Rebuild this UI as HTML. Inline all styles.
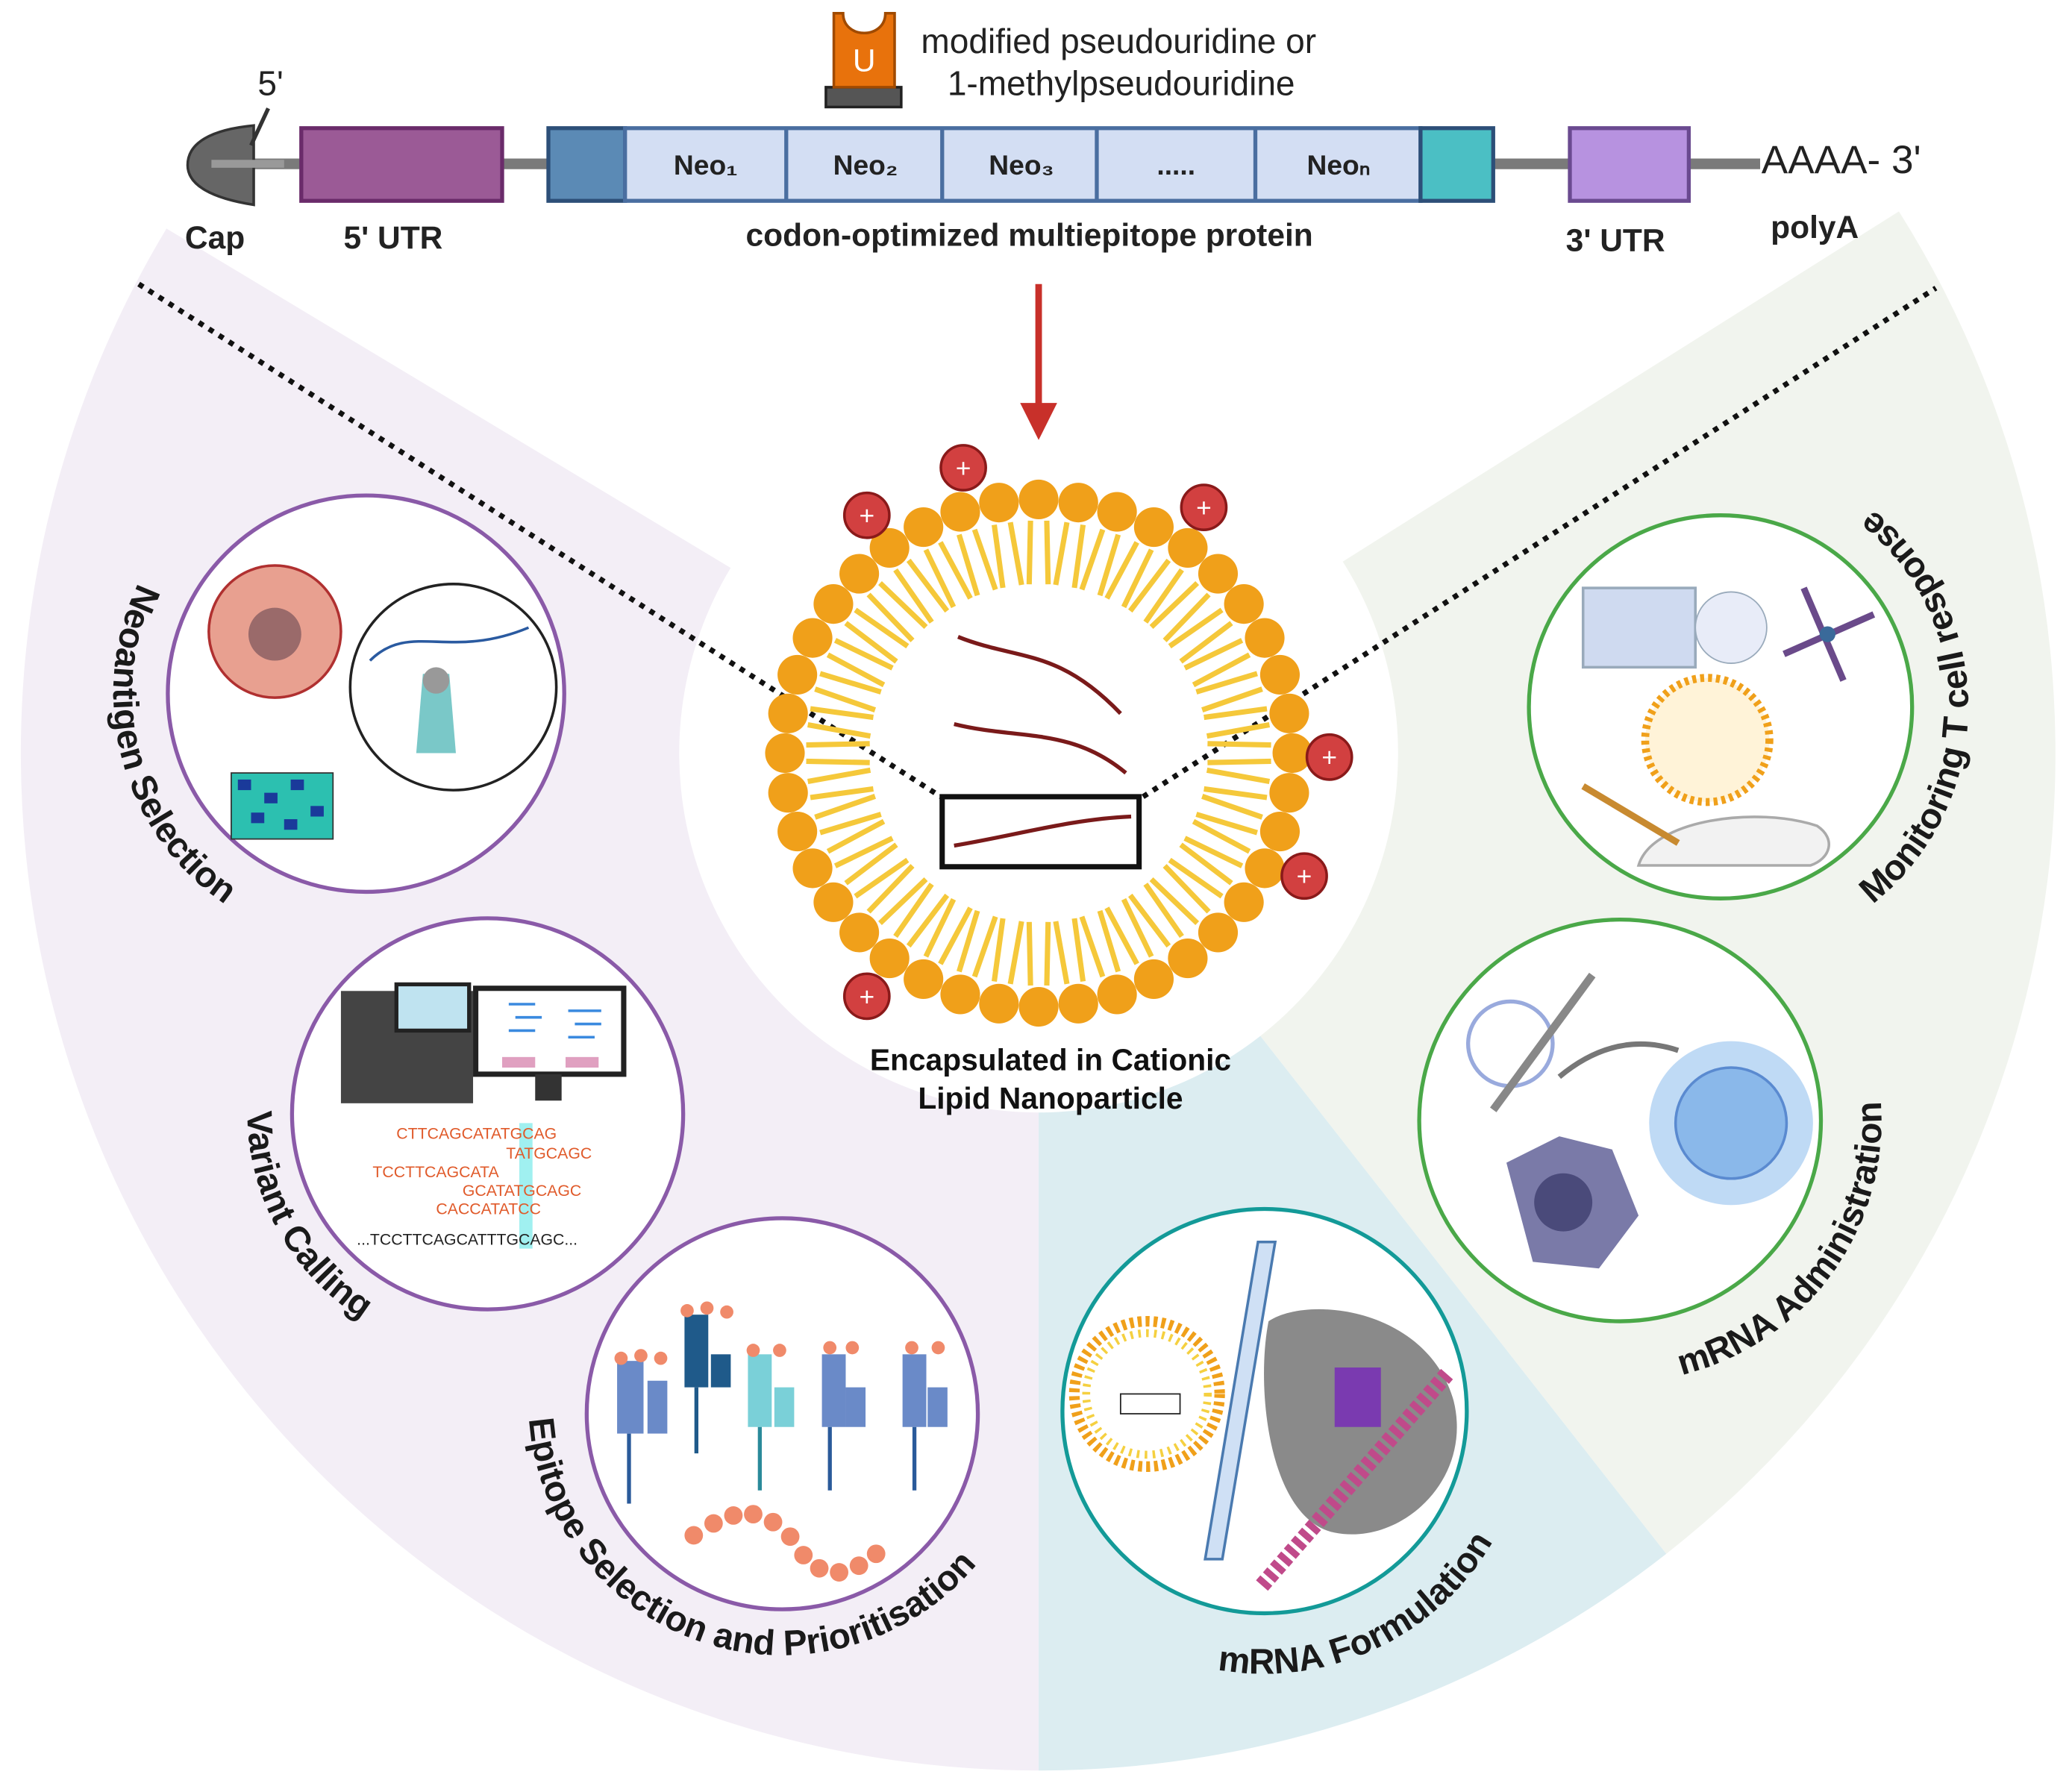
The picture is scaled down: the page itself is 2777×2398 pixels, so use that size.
<!DOCTYPE html>
<html><head><meta charset="utf-8"><style>
html,body{margin:0;padding:0;background:#fff;}
svg{display:block;}
text{font-family:"Liberation Sans",sans-serif;}
</style></head><body>
<svg id="s" width="2777" height="2398" viewBox="0 0 1568 1354" xmlns="http://www.w3.org/2000/svg">
<!-- background sectors -->
<path d="M786,570 L126,173 A770,770 0 0 0 786,1340 Z" fill="#f3eef6"/>
<path d="M786,570 L786,1340 A770,770 0 0 0 1261,1176 Z" fill="#dcedf1"/>
<path d="M786,570 L1261,1176 A770,770 0 0 0 1437,160 Z" fill="#f1f4ee"/>
<circle cx="786" cy="570" r="272" fill="#fff"/>

<!-- dotted lines -->
<line x1="105" y1="215" x2="712" y2="603" stroke="#111" stroke-width="4" stroke-dasharray="4,5"/>
<line x1="865" y1="603" x2="1465" y2="218" stroke="#111" stroke-width="4" stroke-dasharray="4,5"/>

<!-- mRNA construct -->
<line x1="160" y1="124" x2="1332" y2="124" stroke="#7a7a7a" stroke-width="8"/>
<path d="M192,95 L192,155 C160,150 142,140 142,125 C142,108 160,98 192,95 Z" fill="#666" stroke="#333" stroke-width="2"/>
<line x1="160" y1="124" x2="215" y2="124" stroke="#999" stroke-width="6"/>
<line x1="190" y1="110" x2="203" y2="82" stroke="#333" stroke-width="3"/>
<text x="195" y="72" font-size="26" fill="#222">5'</text>
<rect x="228" y="97" width="152" height="55" fill="#9b5a96" stroke="#6a2b6a" stroke-width="3"/>
<rect x="415" y="97" width="58" height="55" fill="#5b8ab5" stroke="#2d4f78" stroke-width="3"/>
<rect x="473" y="97" width="602" height="55" fill="#d3def3" stroke="#4a6ea0" stroke-width="3"/>
<line x1="595" y1="97" x2="595" y2="152" stroke="#4a6ea0" stroke-width="3"/>
<line x1="713" y1="97" x2="713" y2="152" stroke="#4a6ea0" stroke-width="3"/>
<line x1="830" y1="97" x2="830" y2="152" stroke="#4a6ea0" stroke-width="3"/>
<line x1="950" y1="97" x2="950" y2="152" stroke="#4a6ea0" stroke-width="3"/>
<rect x="1075" y="97" width="55" height="55" fill="#4bbfc4" stroke="#2d4f78" stroke-width="3"/>
<rect x="1188" y="97" width="90" height="55" fill="#b792e0" stroke="#6a4a90" stroke-width="3"/>
<g font-size="21" font-weight="bold" fill="#222" text-anchor="middle">
<text x="534" y="132">Neo₁</text><text x="655" y="132">Neo₂</text><text x="773" y="132">Neo₃</text><text x="890" y="132">.....</text><text x="1013" y="132">Neoₙ</text>
</g>
<text x="1333" y="131" font-size="30" fill="#222">AAAA- 3'</text>
<g font-size="24" font-weight="bold" fill="#222">
<text x="140" y="188">Cap</text><text x="260" y="188">5' UTR</text>
<text x="779" y="186" text-anchor="middle">codon-optimized  multiepitope protein</text>
<text x="1185" y="190">3' UTR</text><text x="1340" y="180">polyA</text>
</g>
<!-- U icon -->
<rect x="625" y="66" width="57" height="15" fill="#555" stroke="#222" stroke-width="2"/>
<path d="M631,10 L631,66 L677,66 L677,10 L670,10 C670,30 638,30 638,10 Z" fill="#e8720c" stroke="#a04a00" stroke-width="2"/>
<text x="654" y="54" font-size="24" fill="#fff" text-anchor="middle">U</text>
<text x="697" y="40" font-size="26" fill="#222">modified pseudouridine or</text>
<text x="717" y="72" font-size="26" fill="#222">1-methylpseudouridine</text>

<!-- arrow -->
<line x1="786" y1="215" x2="786" y2="310" stroke="#c8302a" stroke-width="5"/>
<polygon points="772,305 800,305 786,333" fill="#c8302a"/>

<!-- nanoparticle -->
<g id="lnp"></g>
<g fill="none" stroke="#7a1a1a" stroke-width="3">
<path d="M725,482 C770,500 800,490 848,540"/>
<path d="M722,548 C770,560 810,550 852,585"/>
<path d="M722,640 C770,632 810,620 856,618"/>
</g>
<rect x="713" y="603" width="149" height="53" fill="none" stroke="#111" stroke-width="4"/>
<text x="795" y="810" font-size="23" font-weight="bold" fill="#111" text-anchor="middle">Encapsulated in Cationic</text>
<text x="795" y="839" font-size="23" font-weight="bold" fill="#111" text-anchor="middle">Lipid Nanoparticle</text>

<!-- small circles -->
<g fill="#fff" stroke-width="3">
<circle cx="277" cy="525" r="150" stroke="#8a5aa8"/>
<circle cx="369" cy="843" r="148" stroke="#8a5aa8"/>
<circle cx="592" cy="1070" r="148" stroke="#8a5aa8"/>
<circle cx="957" cy="1068" r="153" stroke="#139a98"/>
<circle cx="1226" cy="848" r="152" stroke="#4aa848"/>
<circle cx="1302" cy="535" r="145" stroke="#4aa848"/>
</g>

<!-- neoantigen circle content -->
<circle cx="208" cy="478" r="50" fill="#e8a090" stroke="#b03030" stroke-width="2"/>
<circle cx="208" cy="480" r="20" fill="#9a6a6a"/>
<circle cx="343" cy="520" r="78" fill="#fff" stroke="#222" stroke-width="2"/>
<path d="M280,500 C310,470 340,500 400,475" fill="none" stroke="#2a5aa0" stroke-width="2"/>
<path d="M320,510 L340,510 L345,570 L315,570 Z" fill="#7ac8c8"/>
<circle cx="330" cy="515" r="10" fill="#999"/>
<rect x="175" y="585" width="77" height="50" fill="#2cc0b0" stroke="#333"/>
<g fill="#1a3a9a"><rect x="180" y="590" width="10" height="8"/><rect x="200" y="600" width="10" height="8"/><rect x="220" y="590" width="10" height="8"/><rect x="235" y="610" width="10" height="8"/><rect x="190" y="615" width="10" height="8"/><rect x="215" y="620" width="10" height="8"/></g>

<!-- variant calling content -->
<rect x="258" y="750" width="100" height="85" fill="#444"/>
<rect x="300" y="745" width="55" height="35" fill="#bfe3f0" stroke="#222" stroke-width="3"/>
<rect x="360" y="748" width="112" height="65" fill="#fff" stroke="#222" stroke-width="4"/>
<rect x="380" y="800" width="25" height="8" fill="#e0a0c0"/><rect x="428" y="800" width="25" height="8" fill="#e0a0c0"/>
<rect x="405" y="813" width="20" height="20" fill="#333"/>
<g stroke="#3a8adf" stroke-width="2"><line x1="385" y1="760" x2="405" y2="760"/><line x1="390" y1="770" x2="410" y2="770"/><line x1="385" y1="780" x2="405" y2="780"/><line x1="430" y1="765" x2="455" y2="765"/><line x1="435" y1="775" x2="455" y2="775"/><line x1="430" y1="785" x2="450" y2="785"/></g>
<rect x="393" y="850" width="10" height="95" fill="#a0f0f0"/>
<g font-family="Liberation Mono" font-size="12" fill="#e05a2a">
<text x="300" y="862">CTTCAGCATATGCAG</text><text x="383" y="877">TATGCAGC</text><text x="282" y="891">TCCTTCAGCATA</text><text x="350" y="905">GCATATGCAGC</text><text x="330" y="919">CACCATATCC</text>
<text x="270" y="942" fill="#222">...TCCTTCAGCATTTGCAGC...</text></g>

<!-- epitope content -->
<g fill="#6a8ac8">
<rect x="467" y="1030" width="20" height="55"/><rect x="490" y="1045" width="15" height="40"/><line x1="476" y1="1085" x2="476" y2="1138" stroke="#2a5a9a" stroke-width="3"/>
<rect x="518" y="995" width="18" height="55" fill="#1f5a8a"/><rect x="538" y="1025" width="15" height="25" fill="#1f5a8a"/><line x1="527" y1="1050" x2="527" y2="1100" stroke="#1f5a8a" stroke-width="3"/>
<rect x="566" y="1025" width="18" height="55" fill="#7ad0d8"/><rect x="586" y="1050" width="15" height="30" fill="#7ad0d8"/><line x1="575" y1="1080" x2="575" y2="1128" stroke="#2a8a9a" stroke-width="3"/>
<rect x="622" y="1025" width="18" height="55"/><rect x="640" y="1050" width="15" height="30"/><line x1="628" y1="1080" x2="628" y2="1128" stroke="#2a5a9a" stroke-width="3"/>
<rect x="683" y="1025" width="18" height="55"/><rect x="702" y="1050" width="15" height="30"/><line x1="692" y1="1080" x2="692" y2="1128" stroke="#2a5a9a" stroke-width="3"/>
</g>
<g fill="#f08a6a"><circle cx="525" cy="1162" r="7"/><circle cx="540" cy="1153" r="7"/><circle cx="555" cy="1147" r="7"/><circle cx="570" cy="1146" r="7"/><circle cx="585" cy="1152" r="7"/><circle cx="598" cy="1163" r="7"/><circle cx="608" cy="1177" r="7"/><circle cx="620" cy="1187" r="7"/><circle cx="635" cy="1190" r="7"/><circle cx="650" cy="1185" r="7"/><circle cx="663" cy="1176" r="7"/>
<circle cx="470" cy="1028" r="5"/><circle cx="485" cy="1026" r="5"/><circle cx="500" cy="1028" r="5"/><circle cx="520" cy="992" r="5"/><circle cx="535" cy="990" r="5"/><circle cx="550" cy="993" r="5"/><circle cx="570" cy="1022" r="5"/><circle cx="590" cy="1022" r="5"/><circle cx="628" cy="1020" r="5"/><circle cx="645" cy="1020" r="5"/><circle cx="690" cy="1020" r="5"/><circle cx="710" cy="1020" r="5"/></g>

<!-- mRNA formulation content -->
<circle cx="868" cy="1055" r="55" fill="none" stroke="#f0a01a" stroke-width="8" stroke-dasharray="3,3"/>
<circle cx="868" cy="1055" r="46" fill="#fff" stroke="#f5d040" stroke-width="6" stroke-dasharray="2,4"/>
<rect x="848" y="1055" width="45" height="15" fill="none" stroke="#222"/>
<path d="M952,940 L965,940 L925,1180 L912,1180 Z" fill="#cfe0f5" stroke="#4a7ab0" stroke-width="2"/>
<path d="M960,1000 C990,980 1080,990 1100,1060 C1115,1120 1060,1170 1010,1160 C960,1150 950,1050 960,1000 Z" fill="#8a8a8a"/>
<rect x="1010" y="1035" width="35" height="45" fill="#7a3ab0"/>
<line x1="955" y1="1200" x2="1095" y2="1040" stroke="#c04a8a" stroke-width="12" stroke-dasharray="5,3"/>

<!-- mRNA administration content -->
<circle cx="1310" cy="850" r="62" fill="#bfdaf5"/>
<circle cx="1310" cy="850" r="42" fill="#8ab8ea" stroke="#5a8ad0" stroke-width="2"/>
<path d="M1140,880 L1180,860 L1220,870 L1240,920 L1210,960 L1160,955 Z" fill="#7a7aa8"/>
<circle cx="1183" cy="910" r="22" fill="#4a4a7a"/>
<circle cx="1143" cy="790" r="32" fill="#fff" stroke="#9ad" stroke-width="3"/>
<line x1="1130" y1="840" x2="1205" y2="738" stroke="#888" stroke-width="6"/>
<path d="M1180,815 C1210,790 1240,785 1270,795" fill="none" stroke="#777" stroke-width="4"/>

<!-- monitoring content -->
<rect x="1198" y="445" width="85" height="60" fill="#cfdaf0" stroke="#9ab" stroke-width="2"/>
<circle cx="1310" cy="475" r="27" fill="#e8ecf8" stroke="#9ab"/>
<circle cx="1292" cy="560" r="47" fill="#fff3d8" stroke="#f0a01a" stroke-width="6" stroke-dasharray="3,3"/>
<path d="M1240,655 C1250,620 1330,610 1375,625 C1390,635 1385,650 1370,655 Z" fill="#f2f2f2" stroke="#aaa" stroke-width="2"/>
<line x1="1198" y1="595" x2="1270" y2="638" stroke="#c88a30" stroke-width="5"/>
<g stroke="#6a4a8a" stroke-width="5"><line x1="1350" y1="495" x2="1418" y2="465"/><line x1="1365" y1="445" x2="1395" y2="515"/></g>
<circle cx="1383" cy="480" r="6" fill="#3a6a9a"/>

<!-- curved labels -->
<defs>
<path id="p1" d="M211,344 A193,193 0 0 0 311,715"/>
<path id="p2" d="M266,690 A185,185 0 0 0 444,1012"/>
<path id="p3" d="M405,1017 A192,192 0 0 0 769,1135"/>
<path id="p4" d="M784,1168 A200,200 0 0 0 1145,1000"/>
<path id="p5" d="M1124,1018 A198,198 0 0 0 1356,699"/>
<path id="p6" d="M1319,724 A190,190 0 0 0 1319,346"/>
</defs>
<g font-size="27" font-weight="bold" fill="#1a1a1a">
<text><textPath href="#p1" startOffset="50%" text-anchor="middle">Neoantigen Selection</textPath></text>
<text><textPath href="#p2" startOffset="50%" text-anchor="middle">Variant Calling</textPath></text>
<text><textPath href="#p3" startOffset="50%" text-anchor="middle">Epitope Selection and Prioritisation</textPath></text>
<text><textPath href="#p4" startOffset="50%" text-anchor="middle">mRNA Formulation</textPath></text>
<text><textPath href="#p5" startOffset="50%" text-anchor="middle">mRNA Administration</textPath></text>
<text><textPath href="#p6" startOffset="50%" text-anchor="middle">Monitoring T cell response</textPath></text>
</g>
</svg>
<script>
(function(){
var ns="http://www.w3.org/2000/svg",g=document.getElementById("lnp"),cx=786,cy=570,N=40,s="";
for(var i=0;i<N;i++){var a=i/N*2*Math.PI;
 for(var d=-0.035;d<=0.036;d+=0.07){var b=a+d;
  s+='<line x1="'+(cx+176*Math.cos(b))+'" y1="'+(cy+176*Math.sin(b))+'" x2="'+(cx+128*Math.cos(b+d*0.6))+'" y2="'+(cy+128*Math.sin(b+d*0.6))+'" stroke="#f5c83a" stroke-width="4"/>';}
}
for(var i=0;i<N;i++){var a=i/N*2*Math.PI;
 s+='<circle cx="'+(cx+192*Math.cos(a))+'" cy="'+(cy+192*Math.sin(a))+'" r="15" fill="#f0a01a"/>';}
var p=[[729,354],[656,390],[911,384],[1006,573],[987,663],[656,754]];
p.forEach(function(q){s+='<circle cx="'+q[0]+'" cy="'+q[1]+'" r="17" fill="#d24040" stroke="#8a1a1a" stroke-width="2"/><text x="'+q[0]+'" y="'+(q[1]+7)+'" font-size="20" fill="#fff" text-anchor="middle">+</text>';});
g.innerHTML=s;
})();
</script>
</body></html>
